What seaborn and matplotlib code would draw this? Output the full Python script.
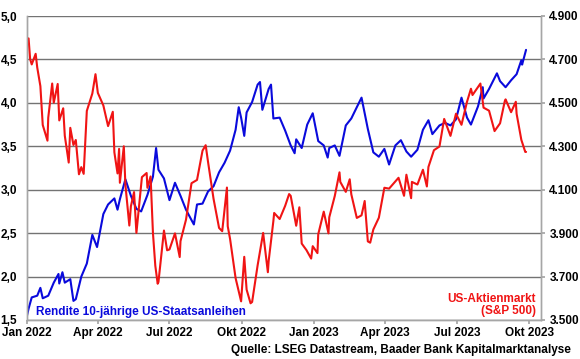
import pandas as pd
import matplotlib
matplotlib.use("Agg")
import matplotlib.pyplot as plt
import matplotlib.ticker as mticker
import seaborn as sns

# 10-year US treasury yield (%), left axis
yield_dates = [
    "2021-12-31", "2022-01-03", "2022-01-07", "2022-01-14", "2022-01-18", "2022-01-21",
    "2022-01-28", "2022-02-04", "2022-02-10", "2022-02-11", "2022-02-15", "2022-02-18",
    "2022-02-25", "2022-03-01", "2022-03-04", "2022-03-11", "2022-03-18", "2022-03-25",
    "2022-03-31", "2022-04-08", "2022-04-14", "2022-04-22", "2022-04-26", "2022-04-29",
    "2022-05-06", "2022-05-13", "2022-05-20", "2022-05-26", "2022-06-03", "2022-06-10",
    "2022-06-14", "2022-06-17", "2022-06-24", "2022-07-01", "2022-07-08", "2022-07-15",
    "2022-07-22", "2022-07-29", "2022-08-01", "2022-08-05", "2022-08-12", "2022-08-19",
    "2022-08-26", "2022-09-02", "2022-09-09", "2022-09-16", "2022-09-23", "2022-09-27",
    "2022-09-30", "2022-10-04", "2022-10-07", "2022-10-14", "2022-10-21", "2022-10-24",
    "2022-10-27", "2022-11-04", "2022-11-07", "2022-11-10", "2022-11-18", "2022-11-25",
    "2022-12-02", "2022-12-07", "2022-12-09", "2022-12-16", "2022-12-23", "2022-12-30",
    "2023-01-06", "2023-01-13", "2023-01-18", "2023-01-20", "2023-01-27", "2023-02-02",
    "2023-02-10", "2023-02-17", "2023-02-24", "2023-03-02", "2023-03-10", "2023-03-17",
    "2023-03-24", "2023-03-31", "2023-04-06", "2023-04-14", "2023-04-21", "2023-04-28",
    "2023-05-04", "2023-05-12", "2023-05-19", "2023-05-26", "2023-05-31", "2023-06-09",
    "2023-06-16", "2023-06-23", "2023-06-30", "2023-07-07", "2023-07-14", "2023-07-19",
    "2023-07-28", "2023-08-03", "2023-08-04", "2023-08-11", "2023-08-21", "2023-08-25",
    "2023-09-01", "2023-09-08", "2023-09-15", "2023-09-21", "2023-09-22", "2023-09-27",
]
yield_vals = [
    1.51, 1.63, 1.76, 1.78, 1.87, 1.75,
    1.78, 1.93, 2.03, 1.92, 2.05, 1.93,
    1.97, 1.72, 1.74, 2.00, 2.15, 2.48,
    2.34, 2.72, 2.83, 2.90, 2.77, 2.89,
    3.12, 2.93, 2.78, 2.75, 2.94, 3.15,
    3.48, 3.23, 3.13, 2.88, 3.08, 2.93,
    2.77, 2.65, 2.60, 2.83, 2.84, 2.98,
    3.04, 3.20, 3.31, 3.45, 3.69, 3.95,
    3.83, 3.62, 3.89, 4.01, 4.21, 4.24,
    3.92, 4.16, 4.21, 3.82, 3.83, 3.68,
    3.51, 3.42, 3.58, 3.48, 3.75, 3.88,
    3.56, 3.51, 3.37, 3.48, 3.51, 3.39,
    3.74, 3.82, 3.95, 4.06, 3.70, 3.43,
    3.38, 3.47, 3.29, 3.51, 3.57, 3.44,
    3.38, 3.46, 3.69, 3.80, 3.64, 3.74,
    3.77, 3.74, 3.81, 4.06, 3.83, 3.75,
    3.96, 4.18, 4.05, 4.16, 4.34, 4.25,
    4.18, 4.26, 4.33, 4.49, 4.44, 4.61,
]

# S&P 500 index, right axis
spx_dates = [
    "2021-12-31", "2022-01-03", "2022-01-05", "2022-01-07", "2022-01-12", "2022-01-14",
    "2022-01-18", "2022-01-21", "2022-01-27", "2022-01-28", "2022-02-02", "2022-02-04",
    "2022-02-09", "2022-02-11", "2022-02-16", "2022-02-18", "2022-02-23", "2022-02-25",
    "2022-03-01", "2022-03-04", "2022-03-08", "2022-03-11", "2022-03-14", "2022-03-18",
    "2022-03-25", "2022-03-29", "2022-04-01", "2022-04-08", "2022-04-14", "2022-04-20",
    "2022-04-22", "2022-04-26", "2022-04-28", "2022-04-29", "2022-05-04", "2022-05-06",
    "2022-05-11", "2022-05-13", "2022-05-17", "2022-05-20", "2022-05-27", "2022-06-02",
    "2022-06-03", "2022-06-07", "2022-06-10", "2022-06-13", "2022-06-16", "2022-06-17",
    "2022-06-24", "2022-06-28", "2022-07-01", "2022-07-08", "2022-07-14", "2022-07-15",
    "2022-07-22", "2022-07-29", "2022-08-05", "2022-08-12", "2022-08-16", "2022-08-19",
    "2022-08-26", "2022-09-02", "2022-09-06", "2022-09-12", "2022-09-13", "2022-09-16",
    "2022-09-23", "2022-09-30", "2022-10-04", "2022-10-07", "2022-10-12", "2022-10-14",
    "2022-10-21", "2022-10-28", "2022-11-03", "2022-11-04", "2022-11-10", "2022-11-11",
    "2022-11-18", "2022-11-25", "2022-11-30", "2022-12-02", "2022-12-09", "2022-12-13",
    "2022-12-16", "2022-12-22", "2022-12-28", "2022-12-30", "2023-01-05", "2023-01-06",
    "2023-01-13", "2023-01-19", "2023-01-20", "2023-01-27", "2023-02-02", "2023-02-03",
    "2023-02-10", "2023-02-15", "2023-02-17", "2023-02-24", "2023-03-02", "2023-03-06",
    "2023-03-10", "2023-03-13", "2023-03-17", "2023-03-24", "2023-03-31", "2023-04-06",
    "2023-04-14", "2023-04-18", "2023-04-25", "2023-04-28", "2023-05-04", "2023-05-05",
    "2023-05-12", "2023-05-19", "2023-05-24", "2023-05-26", "2023-06-02", "2023-06-09",
    "2023-06-15", "2023-06-23", "2023-06-30", "2023-07-07", "2023-07-14", "2023-07-19",
    "2023-07-21", "2023-07-31", "2023-08-04", "2023-08-11", "2023-08-18", "2023-08-25",
    "2023-08-31", "2023-09-01", "2023-09-08", "2023-09-14", "2023-09-15", "2023-09-21",
    "2023-09-26", "2023-09-27",
]
spx_vals = [
    4766, 4797, 4701, 4677, 4726, 4663,
    4577, 4398, 4326, 4432, 4589, 4501,
    4587, 4419, 4475, 4349, 4225, 4385,
    4306, 4329, 4171, 4204, 4173, 4463,
    4543, 4632, 4546, 4488, 4393, 4459,
    4272, 4175, 4288, 4132, 4300, 4123,
    3935, 4024, 4089, 3901, 4158, 4177,
    4109, 4161, 3901, 3750, 3667, 3675,
    3912, 3821, 3825, 3899, 3790, 3863,
    3962, 4130, 4145, 4280, 4305, 4228,
    4058, 3924, 3909, 4110, 3932, 3873,
    3693, 3586, 3791, 3640, 3577, 3583,
    3752, 3901, 3720, 3771, 3956, 3993,
    3965, 4026, 4080, 4072, 3934, 4019,
    3852, 3822, 3783, 3840, 3808, 3895,
    3999, 3899, 3973, 4071, 4180, 4136,
    4090, 4148, 4079, 3970, 3982, 4048,
    3862, 3856, 3917, 3971, 4109, 4105,
    4138, 4155, 4072, 4169, 4061, 4136,
    4124, 4192, 4115, 4205, 4282, 4299,
    4426, 4348, 4450, 4399, 4505, 4565,
    4536, 4589, 4478, 4464, 4370, 4406,
    4508, 4516, 4457, 4505, 4450, 4330,
    4274, 4274,
]

left_ticks = [1.5, 2.0, 2.5, 3.0, 3.5, 4.0, 4.5, 5.0]
right_ticks = [3500, 3700, 3900, 4100, 4300, 4500, 4700, 4900]
month_ticks = ["2022-01-01", "2022-04-01", "2022-07-01", "2022-10-01",
               "2023-01-01", "2023-04-01", "2023-07-01", "2023-10-01"]
month_labels = ["Jan 2022", "Apr 2022", "Jul 2022", "Okt 2022",
                "Jan 2023", "Apr 2023", "Jul 2023", "Okt 2023"]

df_y = pd.DataFrame({"date": pd.to_datetime(yield_dates), "val": yield_vals})
df_s = pd.DataFrame({"date": pd.to_datetime(spx_dates), "val": spx_vals})

sns.set_theme(style="white")
plt.rcParams["font.family"] = ["Liberation Sans", "DejaVu Sans"]
plt.rcParams["font.weight"] = "bold"

blue = "#0A0ADC"
red = "#F01414"
grid_c = "#737373"
spine_c = "#A6A6A6"

fig = plt.figure(figsize=(5.8, 3.59), dpi=100)
ax = fig.add_axes([27 / 580, 1 - 320 / 359, 514 / 580, 304 / 359])
ax2 = ax.twinx()

sns.lineplot(data=df_y, x="date", y="val", ax=ax, color=blue, linewidth=1.5)
sns.lineplot(data=df_s, x="date", y="val", ax=ax2, color=red, linewidth=1.5)

ax.set_xlim(pd.Timestamp("2022-01-01"), pd.Timestamp("2023-10-16"))
ax.set_ylim(1.5, 5.0)
ax2.set_ylim(3500, 4900)

ax.set_yticks(left_ticks)
ax.yaxis.set_major_formatter(mticker.FuncFormatter(lambda v, p: f"{v:.1f}".replace(".", ",")))
ax2.set_yticks(right_ticks)
ax2.yaxis.set_major_formatter(mticker.FuncFormatter(lambda v, p: f"{v:,.0f}".replace(",", ".")))
ax.set_xticks(pd.to_datetime(month_ticks))
ax.set_xticklabels(month_labels)

ax.grid(axis="y", color=grid_c, linewidth=1.0)
ax.set_axisbelow(True)
for a in (ax, ax2):
    a.set_xlabel("")
    a.set_ylabel("")
    for s in ("left", "right", "bottom"):
        a.spines[s].set_visible(True)
        a.spines[s].set_color(spine_c)
        a.spines[s].set_linewidth(1.0)
    a.spines["top"].set_visible(False)

ax.tick_params(axis="x", bottom=True, length=3, color=spine_c, labelsize=8.5, pad=2)
ax.tick_params(axis="y", left=False, labelsize=8.5, pad=1)
ax2.tick_params(axis="y", right=True, length=3, color=spine_c, labelsize=8.5, pad=3)
for lab in ax.get_xticklabels() + ax.get_yticklabels() + ax2.get_yticklabels():
    lab.set_fontweight("bold")
    lab.set_color("black")

ax.text(0.018, 0.008, "Rendite 10-jährige US-Staatsanleihen", transform=ax.transAxes,
        color=blue, fontsize=8.5, fontweight="bold", ha="left", va="bottom")
ax.text(0.99, 0.01, "US-Aktienmarkt\n(S&P 500)", transform=ax.transAxes,
        color=red, fontsize=8.5, fontweight="bold", ha="right", va="bottom",
        multialignment="right", linespacing=1.05)
fig.text(0.985, 0.008, "Quelle: LSEG Datastream, Baader Bank Kapitalmarktanalyse",
         color="black", fontsize=8.5, fontweight="bold", ha="right", va="bottom")

fig.savefig("out.png", dpi=100)
